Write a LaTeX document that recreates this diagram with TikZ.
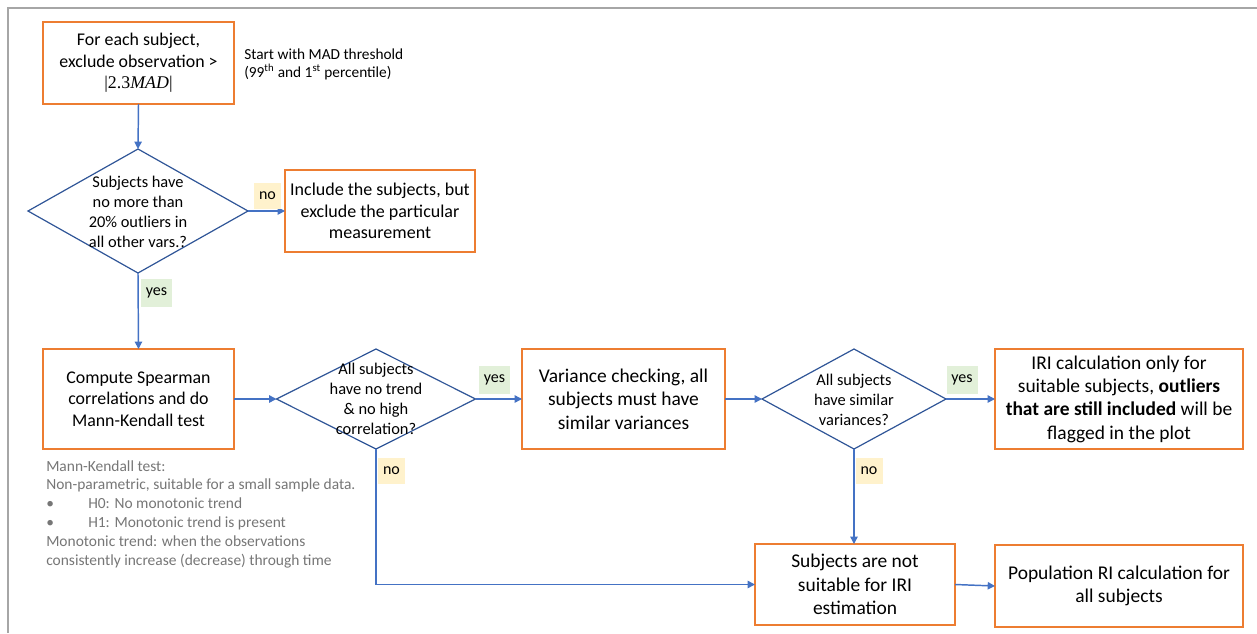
\documentclass[tikz,border=0pt]{standalone}
\usepackage{fontspec}
\setmainfont{Carlito}
\newfontfamily\cambria{Liberation Serif}
\usetikzlibrary{arrows.meta,shapes.geometric}
\definecolor{boxor}{HTML}{ED7D31}
\definecolor{arrblue}{HTML}{4472C4}
\definecolor{diablue}{HTML}{2F5597}
\definecolor{lblyel}{HTML}{FFF2CC}
\definecolor{lblgrn}{HTML}{E2F0D9}
\definecolor{framegray}{HTML}{A6A6A6}
\definecolor{notegray}{HTML}{767676}
\tikzset{
  boxL/.style={draw=boxor, line width=1.3pt, fill=white, align=center, inner sep=0pt, outer sep=0pt,
    font=\fontsize{13.4}{16}\selectfont},
  boxR/.style={draw=boxor, line width=1.3pt, fill=white, align=center, inner sep=0pt, outer sep=0pt,
    font=\fontsize{14.6}{17.5}\selectfont},
  dia/.style={diamond, draw=diablue, line width=0.9pt, inner sep=0pt, outer sep=0pt},
  diatext/.style={align=center, inner sep=0pt, font=\fontsize{12.3}{15}\selectfont},
  lblno/.style={fill=lblyel, inner sep=0pt, minimum width=20.25pt, minimum height=19.5pt, font=\fontsize{12}{14}\selectfont},
  lblyes/.style={fill=lblgrn, inner sep=0pt, minimum width=23.25pt, minimum height=21pt, font=\fontsize{12}{14}\selectfont},
  conn/.style={draw=arrblue, line width=1.1pt, -{Triangle[length=5.5pt,width=5.5pt]}},
  connplain/.style={draw=arrblue, line width=1.1pt},
}
\begin{document}
\begin{tikzpicture}[x=0.75pt,y=-0.75pt]
\useasboundingbox (0,0) rectangle (1257,633);
% frame
\draw[framegray, line width=1.5pt] (8,633) -- (8,7.5) -- (1257,7.5);

% boxes
\node[boxL, minimum width=143.25pt, minimum height=61.5pt] (b1) at (138.5,63)
  {For each subject,\\exclude observation >\\{\cambria |2.3\textit{MAD}|}};
\node[boxL, minimum width=142.5pt, minimum height=61.5pt, font=\fontsize{13.5}{16.1}\selectfont] (b2) at (380,211)
  {Include the subjects, but\\exclude the particular\\measurement};
\node[boxL, minimum width=143.25pt, minimum height=75pt] (b3) at (138.5,399)
  {Compute Spearman\\correlations and do\\Mann-Kendall test};
\node[boxR, minimum width=152.25pt, minimum height=75pt] (b4) at (623.5,399)
  {Variance checking, all\\subjects must have\\similar variances};
\node[boxR, minimum width=186pt, minimum height=75pt] (b5) at (1119,399)
  {IRI calculation only for\\suitable subjects, \textbf{outliers}\\\textbf{that are still included} will be\\flagged in the plot};
\node[boxR, minimum width=150pt, minimum height=60.75pt] (b6) at (855,584.5)
  {Subjects are not\\suitable for IRI\\estimation};
\node[boxR, minimum width=186pt, minimum height=61.5pt] (b7) at (1119,586)
  {Population RI calculation for\\all subjects};

% diamonds
\node[dia, minimum width=165pt, minimum height=93pt] (d1) at (138,211) {};
\node[diatext] (d1t) at (138,212) {Subjects have\\no more than\\20\% outliers in\\all other vars.?};
\node[dia, minimum width=149.25pt, minimum height=75pt] (d2) at (376,399) {};
\node[diatext] (d2t) at (376,399) {All subjects\\have no trend\\\& no high\\correlation?};
\node[dia, minimum width=138pt, minimum height=75pt] (d3) at (854,399) {};
\node[diatext] (d3t) at (854,400) {All subjects\\have similar\\variances?};

% notes
\node[anchor=west, align=left, inner sep=0pt, font=\fontsize{11.5}{13.5}\selectfont] (n1) at (244,64)
  {Start with MAD threshold\\(99\textsuperscript{th} and 1\textsuperscript{st} percentile)};
\node[anchor=west, align=left, inner sep=0pt, text=notegray, font=\fontsize{11.6}{14.1}\selectfont] (n2) at (46,514)
  {Mann-Kendall test:\\
   Non-parametric, suitable for a small sample data.\\
   \makebox[31.5pt][l]{•}H0: No monotonic trend\\
   \makebox[31.5pt][l]{•}H1: Monotonic trend is present\\
   Monotonic trend: when the observations\\
   consistently increase (decrease) through time};

% connectors
\draw[conn] (b1.south) -- (d1.north);
\draw[conn] (d1.east) -- (b2.west);
\draw[conn] (d1.south) -- (b3.north);
\draw[conn] (b3.east) -- (d2.west);
\draw[conn] (d2.east) -- (b4.west);
\draw[conn] (b4.east) -- (d3.west);
\draw[conn] (d3.east) -- (b5.west);
\draw[conn] (d3.south) -- (d3.south |- b6.north);
\draw[conn] (d2.south) -- (d2.south |- b6.west) -- (b6.west);
\draw[conn] (b6.east) -- (b7.west);

% labels
\node[lblno] (l1) at (267.5,196) {no};
\node[lblyes] (l2) at (156.5,293) {yes};
\node[lblyes] (l3) at (494.5,380) {yes};
\node[lblno] (l4) at (391.5,471) {no};
\node[lblyes] (l5) at (962,380) {yes};
\node[lblno] (l6) at (869,471) {no};
\end{tikzpicture}
\end{document}
